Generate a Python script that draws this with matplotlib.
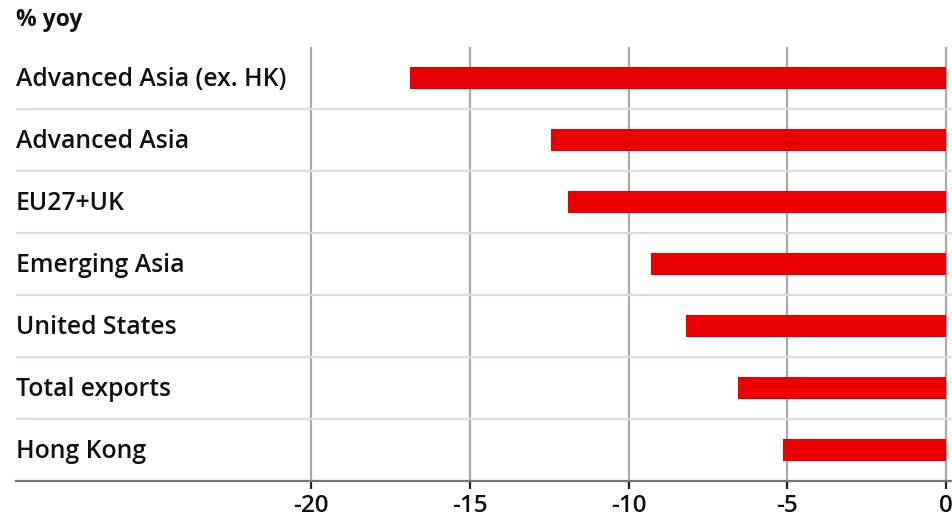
import matplotlib.pyplot as plt

# Data
categories = ['Advanced Asia (ex. HK)', 'Advanced Asia', 'EU27+UK', 'Emerging Asia',
              'United States', 'Total exports', 'Hong Kong']
values = [-16.9, -12.45, -11.9, -9.3, -8.2, -6.55, -5.15]
ticks = [-20, -15, -10, -5, 0]

plt.rcParams['font.family'] = ['Open Sans', 'DejaVu Sans']

fig = plt.figure(figsize=(9.53, 5.21), dpi=100)
ax = fig.add_axes([16 / 953, 40 / 521, 937 / 953, 434 / 521])

ypos = list(range(len(categories)))
ax.barh(ypos, values, height=0.36, color='#ea0000', zorder=3)

ax.set_xlim(-29.3, 0.22)
ax.set_ylim(len(categories) - 0.5, -0.5)

# vertical grid
for t in ticks:
    ax.axvline(t, color='#a9a9a9', lw=1.6, zorder=1)
# row separators
for i in range(len(categories) - 1):
    ax.axhline(i + 0.5, color='#dcdcea', lw=1.6, zorder=1)

# labels inside the plot area
for y, name in zip(ypos, categories):
    ax.text(0, y + 0.02, name, transform=ax.get_yaxis_transform(), ha='left', va='center',
            fontsize=17.8, fontweight='semibold', color='#111111')

ax.set_yticks([])
ax.set_xticks(ticks)
ax.set_xticklabels([str(t) for t in ticks], fontsize=17.5, fontweight='semibold', color='#111111')
ax.tick_params(axis='x', length=6, width=1.6, color='#222222', pad=3)

for side in ['top', 'right', 'left']:
    ax.spines[side].set_visible(False)
ax.spines['bottom'].set_color('#777777')
ax.spines['bottom'].set_linewidth(1.6)

fig.text(16 / 953, 1 - 20 / 521, '% yoy', ha='left', va='center',
         fontsize=16.5, fontweight='bold', color='#111111')

fig.savefig('out.png', dpi=100)
